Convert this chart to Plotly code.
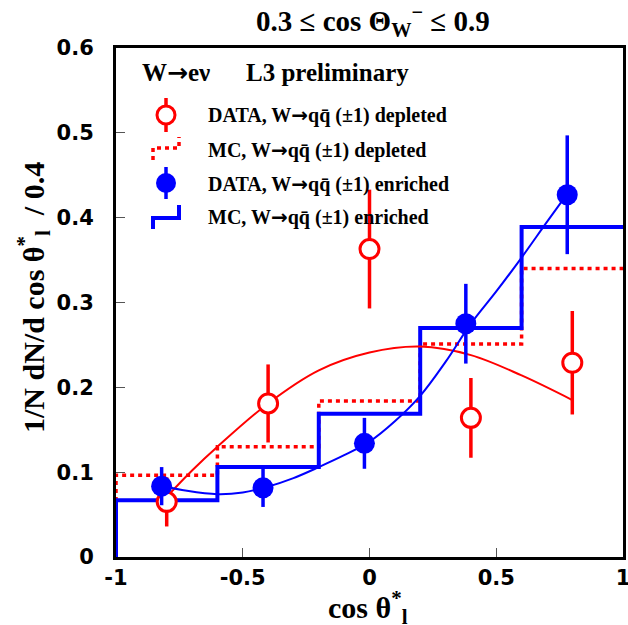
import plotly.graph_objects as go

# ---------------- data ----------------
bin_edges = [-1.0, -0.6, -0.2, 0.2, 0.6, 1.0]
mc_depleted = [0.0965, 0.130, 0.184, 0.251, 0.340]
mc_enriched = [0.067, 0.106, 0.169, 0.270, 0.389]

data_depl_x = [-0.80, -0.40, 0.00, 0.40, 0.80]
data_depl_y = [0.065, 0.181, 0.363, 0.164, 0.229]
data_depl_err = [0.029, 0.046, 0.070, 0.047, 0.061]

data_enr_x = [-0.82, -0.42, -0.02, 0.38, 0.78]
data_enr_y = [0.0835, 0.0815, 0.134, 0.275, 0.427]
data_enr_err = [0.0225, 0.0225, 0.030, 0.047, 0.070]

fit_depl_x = [-0.80, -0.70, -0.60, -0.40, -0.20, 0.00, 0.20, 0.40, 0.60, 0.80]
fit_depl_y = [0.071, 0.102, 0.130, 0.181, 0.220, 0.241, 0.248, 0.238, 0.214, 0.185]

fit_enr_x = [-0.82, -0.72, -0.60, -0.50, -0.40, -0.30, -0.20, -0.10, 0.00, 0.10,
             0.20, 0.30, 0.40, 0.50, 0.60, 0.70, 0.78]
fit_enr_y = [0.084, 0.078, 0.074, 0.076, 0.083, 0.093, 0.106, 0.120, 0.136, 0.160,
             0.190, 0.230, 0.275, 0.313, 0.353, 0.395, 0.428]

x_tickvals = [-1, -0.5, 0, 0.5, 1]
x_ticktext = ["-1", "-0.5", "0", "0.5", "1"]
y_tickvals = [0, 0.1, 0.2, 0.3, 0.4, 0.5, 0.6]
y_ticktext = ["0", "0.1", "0.2", "0.3", "0.4", "0.5", "0.6"]

ARROW = '<span style="font-family:DejaVu Sans">\u2192</span>'
legend_labels = [
    f"DATA, W{ARROW}qq\u0304 (\u00b11) depleted",
    f"MC, W{ARROW}qq\u0304 (\u00b11) depleted",
    f"DATA, W{ARROW}qq\u0304 (\u00b11) enriched",
    f"MC, W{ARROW}qq\u0304 (\u00b11) enriched",
]

RED = "#ff0000"
BLUE = "#0000ff"
SERIF = "Liberation Serif"
SANS = "DejaVu Sans"

W, H = 628, 625
ML, MR, MT, MB = 116, 5, 48, 68
PW, PH = W - ML - MR, H - MT - MB


def px(xp):
    return (xp - ML) / PW


def py(yp):
    return (H - MB - yp) / PH


def step_xy(edges, vals):
    xs = [edges[0]] + list(edges)
    ys = [0.0] + list(vals) + [vals[-1]]
    return xs, ys


fig = go.Figure()

hx, hy = step_xy(bin_edges, mc_depleted)
fig.add_trace(go.Scatter(x=hx, y=hy, mode="lines", line_shape="hv",
                         line=dict(color=RED, width=3.5, dash="4px,4px"),
                         showlegend=False, hoverinfo="skip"))
hx, hy = step_xy(bin_edges, mc_enriched)
fig.add_trace(go.Scatter(x=hx, y=hy, mode="lines", line_shape="hv",
                         line=dict(color=BLUE, width=4),
                         showlegend=False, hoverinfo="skip"))

fig.add_trace(go.Scatter(x=fit_depl_x, y=fit_depl_y, mode="lines",
                         line=dict(color=RED, width=2, shape="spline", smoothing=1.0),
                         showlegend=False, hoverinfo="skip"))
fig.add_trace(go.Scatter(x=fit_enr_x, y=fit_enr_y, mode="lines",
                         line=dict(color=BLUE, width=2, shape="spline", smoothing=1.0),
                         showlegend=False, hoverinfo="skip"))

fig.add_trace(go.Scatter(x=data_depl_x, y=data_depl_y, mode="markers",
                         marker=dict(symbol="circle", size=19, color="white",
                                     line=dict(color=RED, width=3)),
                         error_y=dict(type="data", array=data_depl_err, color=RED,
                                      thickness=3.5, width=0),
                         showlegend=False))
fig.add_trace(go.Scatter(x=data_enr_x, y=data_enr_y, mode="markers",
                         marker=dict(symbol="circle", size=21, color=BLUE,
                                     line=dict(width=0)),
                         error_y=dict(type="data", array=data_enr_err, color=BLUE,
                                      thickness=3.5, width=0),
                         showlegend=False))

shapes = []
gx = 166
shapes.append(dict(type="line", xref="paper", yref="paper", x0=px(gx), x1=px(gx),
                   y0=py(98), y1=py(132), line=dict(color=RED, width=3.5)))
shapes.append(dict(type="circle", xref="paper", yref="paper",
                   x0=px(gx - 9), x1=px(gx + 9), y0=py(106), y1=py(124),
                   fillcolor="white", line=dict(color=RED, width=3)))
shapes.append(dict(type="path", xref="paper", yref="paper",
                   path=f"M {px(153)},{py(160)} L {px(153)},{py(148)} L {px(179)},{py(148)} L {px(179)},{py(137)}",
                   line=dict(color=RED, width=3.5, dash="4px,4px")))
shapes.append(dict(type="line", xref="paper", yref="paper", x0=px(gx), x1=px(gx),
                   y0=py(167), y1=py(199), line=dict(color=BLUE, width=3.5)))
shapes.append(dict(type="circle", xref="paper", yref="paper",
                   x0=px(gx - 10), x1=px(gx + 10), y0=py(173), y1=py(193),
                   fillcolor=BLUE, line=dict(color=BLUE, width=0)))
shapes.append(dict(type="path", xref="paper", yref="paper",
                   path=f"M {px(153)},{py(229)} L {px(153)},{py(218)} L {px(179)},{py(218)} L {px(179)},{py(205)}",
                   line=dict(color=BLUE, width=4)))

annotations = []
for lab, yy in zip(legend_labels, [115, 150, 184, 217]):
    annotations.append(dict(text=lab, xref="paper", yref="paper", x=px(206), y=py(yy),
                            xanchor="left", yanchor="middle", showarrow=False,
                            font=dict(family=SERIF, size=20, color="black", weight="bold")))
annotations.append(dict(text=f"W{ARROW}e\u03bd", xref="paper", yref="paper", x=px(140), y=py(73),
                        xanchor="left", yanchor="middle", showarrow=False,
                        font=dict(family=SERIF, size=25, color="black", weight="bold")))
annotations.append(dict(text="L3 preliminary", xref="paper", yref="paper", x=px(244), y=py(73),
                        xanchor="left", yanchor="middle", showarrow=False,
                        font=dict(family=SERIF, size=25, color="black", weight="bold")))
annotations.append(dict(text="0.3 \u2264 cos \u0398<sub>W</sub><sup>\u2212</sup> \u2264 0.9",
                        xref="paper", yref="paper", x=px(373), y=py(21),
                        xanchor="center", yanchor="middle", showarrow=False,
                        font=dict(family=SERIF, size=29, color="black", weight="bold")))
annotations.append(dict(text="cos \u03b8<sup>*</sup><sub>l</sub>",
                        xref="paper", yref="paper", x=px(368), y=py(607),
                        xanchor="center", yanchor="middle", showarrow=False,
                        font=dict(family=SERIF, size=30, color="black", weight="bold")))
annotations.append(dict(text="1/N dN/d cos \u03b8<sup>*</sup><sub>l</sub>  / 0.4",
                        xref="paper", yref="paper", x=px(33), y=py(298),
                        xanchor="center", yanchor="middle", showarrow=False, textangle=-90,
                        font=dict(family=SERIF, size=30, color="black", weight="bold")))

axis_common = dict(showgrid=False, zeroline=False, showline=True, linecolor="black",
                   linewidth=3, mirror=True, ticks="inside", ticklen=9, tickwidth=1,
                   tickcolor="#555555", automargin=False, ticklabeloverflow="allow",
                   tickfont=dict(family=SANS, size=21, color="black", weight="bold"))

fig.update_layout(
    width=W, height=H,
    margin=dict(l=ML, r=MR, t=MT, b=MB, autoexpand=False),
    paper_bgcolor="white", plot_bgcolor="white",
    showlegend=False, hovermode=False,
    shapes=shapes, annotations=annotations,
    xaxis=dict(range=[-1, 1], tickvals=x_tickvals, ticktext=x_ticktext,
               ticklabelstandoff=0, **axis_common),
    yaxis=dict(range=[0, 0.6], tickvals=y_tickvals, ticktext=y_ticktext,
               ticklabelstandoff=15, **axis_common),
)

fig.write_html("out.html", config={"displayModeBar": False},
               post_script="document.body.style.margin='0px';document.body.style.overflow='hidden';")
